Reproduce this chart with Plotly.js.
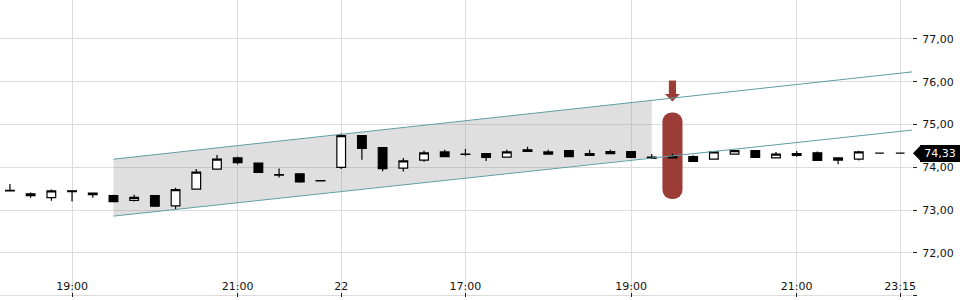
<!DOCTYPE html>
<html><head><meta charset="utf-8">
<script src="https://cdn.plot.ly/plotly-3.0.1.min.js"></script>
<style>html,body{margin:0;padding:0;background:#fff}#chart{width:960px;height:300px}</style>
</head><body><div id="chart"></div>
<script>
// 15-minute candles, indexed by bar number
const candleIdx = [0,1,2,3,4,5,6,7,8,9,10,11,12,13,14,15,16,17,18,19,20,21,22,23,24,25,26,27,28,29,30,31,32,33,34,35,36,37,38,39,40,41,42,43];
const openP  = [73.46,73.38,73.29,73.45,73.40,73.34,73.23,73.34,73.10,73.49,73.96,74.22,74.10,73.83,73.85,73.69,74.00,74.74,74.46,73.98,74.17,74.36,74.31,74.32,74.24,74.41,74.31,74.39,74.32,74.37,74.37,74.24,74.25,74.25,74.19,74.31,74.39,74.22,74.32,74.34,74.17,74.19,74.33,74.33];
const highP  = [73.61,73.41,73.48,73.46,73.40,73.36,73.36,73.34,73.52,73.96,74.29,74.25,74.10,73.97,73.85,73.69,74.79,74.74,74.46,74.22,74.39,74.41,74.43,74.32,74.41,74.48,74.41,74.39,74.41,74.41,74.37,74.31,74.32,74.28,74.36,74.39,74.39,74.36,74.38,74.37,74.22,74.39,74.33,74.33];
const lowP   = [73.45,73.29,73.22,73.20,73.29,73.20,73.20,73.09,73.01,73.49,73.96,74.07,73.88,73.76,73.64,73.68,73.96,74.18,73.91,73.90,74.13,74.25,74.27,74.15,74.24,74.37,74.31,74.25,74.28,74.32,74.23,74.21,74.22,74.14,74.19,74.31,74.23,74.22,74.25,74.16,74.07,74.16,74.33,74.33];
const closeP = [73.45,73.34,73.45,73.43,73.36,73.20,73.30,73.09,73.48,73.89,74.19,74.11,73.88,73.82,73.66,73.68,74.74,74.44,73.97,74.15,74.34,74.25,74.30,74.23,74.36,74.37,74.36,74.25,74.28,74.32,74.23,74.21,74.22,74.14,74.36,74.39,74.23,74.31,74.28,74.16,74.22,74.36,74.33,74.33];

// x-axis labels
const tickIdx  = [3, 11, 16, 22, 30, 38, 43];
const tickText = ['19:00', '21:00', '22', '17:00', '19:00', '21:00', '23:15'];
// y-axis ticks
const priceTicks = [71, 72, 73, 74, 75, 76, 77];

// trend channel (shaded part) and its extended lines
const chanX     = [5, 31];
const chanUpper = [74.19, 75.56];
const chanLower = [72.86, 74.23];
const lineX     = [5, 43.57];
const upperLine = [74.19, 76.23];
const lowerLine = [72.86, 74.87];

// signal marker (rounded bar) and arrow
const signalX    = [32];
const signalLow  = [73.26];
const signalHigh = [75.28];
const arrowTip   = [75.54];

// last price
const lastPrice = [74.33];
const lastLabel = ['74,33'];

const RED = '#9b3c37';
const TEAL = '#5f9ea0';

const traces = [
  {type:'bar', x:signalX, y:[signalHigh[0]-signalLow[0]], base:signalLow, width:[0.97],
   marker:{color:RED, cornerradius:9, line:{width:0}}, hoverinfo:'skip'},
  {type:'candlestick', x:candleIdx, open:openP, high:highP, low:lowP, close:closeP,
   increasing:{line:{color:'#000', width:1.2}, fillcolor:'#fff'},
   decreasing:{line:{color:'#000', width:1.2}, fillcolor:'#000'},
   whiskerwidth:0, hoverinfo:'skip'},
  {type:'scatter', mode:'lines', x:lineX, y:upperLine, line:{color:TEAL, width:1}, hoverinfo:'skip'},
  {type:'scatter', mode:'lines', x:lineX, y:lowerLine, line:{color:TEAL, width:1}, hoverinfo:'skip'}
];

const shadePath = `M${chanX[0]},${chanUpper[0]} L${chanX[1]},${chanUpper[1]} L${chanX[1]},${chanLower[1]} L${chanX[0]},${chanLower[0]} Z`;

const shapes = [
  {type:'path', xref:'x', yref:'y', path:shadePath, fillcolor:'rgba(150,150,150,0.3)', line:{width:0}, layer:'between'},
  {type:'path', xref:'x', yref:'y', xsizemode:'pixel', ysizemode:'pixel', xanchor:signalX[0], yanchor:arrowTip[0],
   path:'M0,0 L-7.5,7.5 L-3.6,7.5 L-3.6,21 L3.6,21 L3.6,7.5 L7.5,7.5 Z', fillcolor:RED, line:{width:0}, layer:'between'},
  {type:'path', xref:'paper', yref:'y', xsizemode:'pixel', ysizemode:'pixel', xanchor:1, yanchor:lastPrice[0],
   path:'M1,0 L9,8.2 L9,-8.2 Z', fillcolor:'#000', line:{width:0}, layer:'above'}
];

const annotations = [
  {xref:'paper', x:1, xanchor:'left', xshift:8, yref:'y', y:lastPrice[0], yanchor:'middle',
   text:lastLabel[0], showarrow:false, bgcolor:'#000', borderpad:2, borderwidth:0, width:36, align:'center',
   font:{family:'DejaVu Sans', size:11, color:'#fff'}}
];

const layout = {
  width:960, height:300,
  margin:{l:0, r:48, t:0, b:3, pad:0},
  paper_bgcolor:'#fff', plot_bgcolor:'#fff',
  separators:',.',
  showlegend:false,
  boxgap:0.4,
  font:{family:'DejaVu Sans', size:11, color:'#111'},
  xaxis:{range:[-0.48, 43.57], tickmode:'array', tickvals:tickIdx, ticktext:tickText,
    showgrid:true, gridcolor:'#dcdcdc', gridwidth:1, ticks:'inside', ticklen:4, tickcolor:'#222',
    ticklabelposition:'inside', ticklabeloverflow:'allow', zeroline:false, showline:false,
    rangeslider:{visible:false}, fixedrange:true, tickfont:{family:'DejaVu Sans', size:11, color:'#111'}},
  yaxis:{side:'right', range:[70.97, 77.91], tickmode:'array', tickvals:priceTicks, tickformat:'.2f',
    ticks:'outside', ticklen:4, tickcolor:'#222', gridcolor:'#dcdcdc', gridwidth:1,
    zeroline:false, showline:false, ticklabelstandoff:3, fixedrange:true,
    tickfont:{family:'DejaVu Sans', size:11, color:'#111'}},
  shapes:shapes,
  annotations:annotations
};

Plotly.newPlot('chart', traces, layout, {staticPlot:true, displayModeBar:false});
</script>
</body></html>
